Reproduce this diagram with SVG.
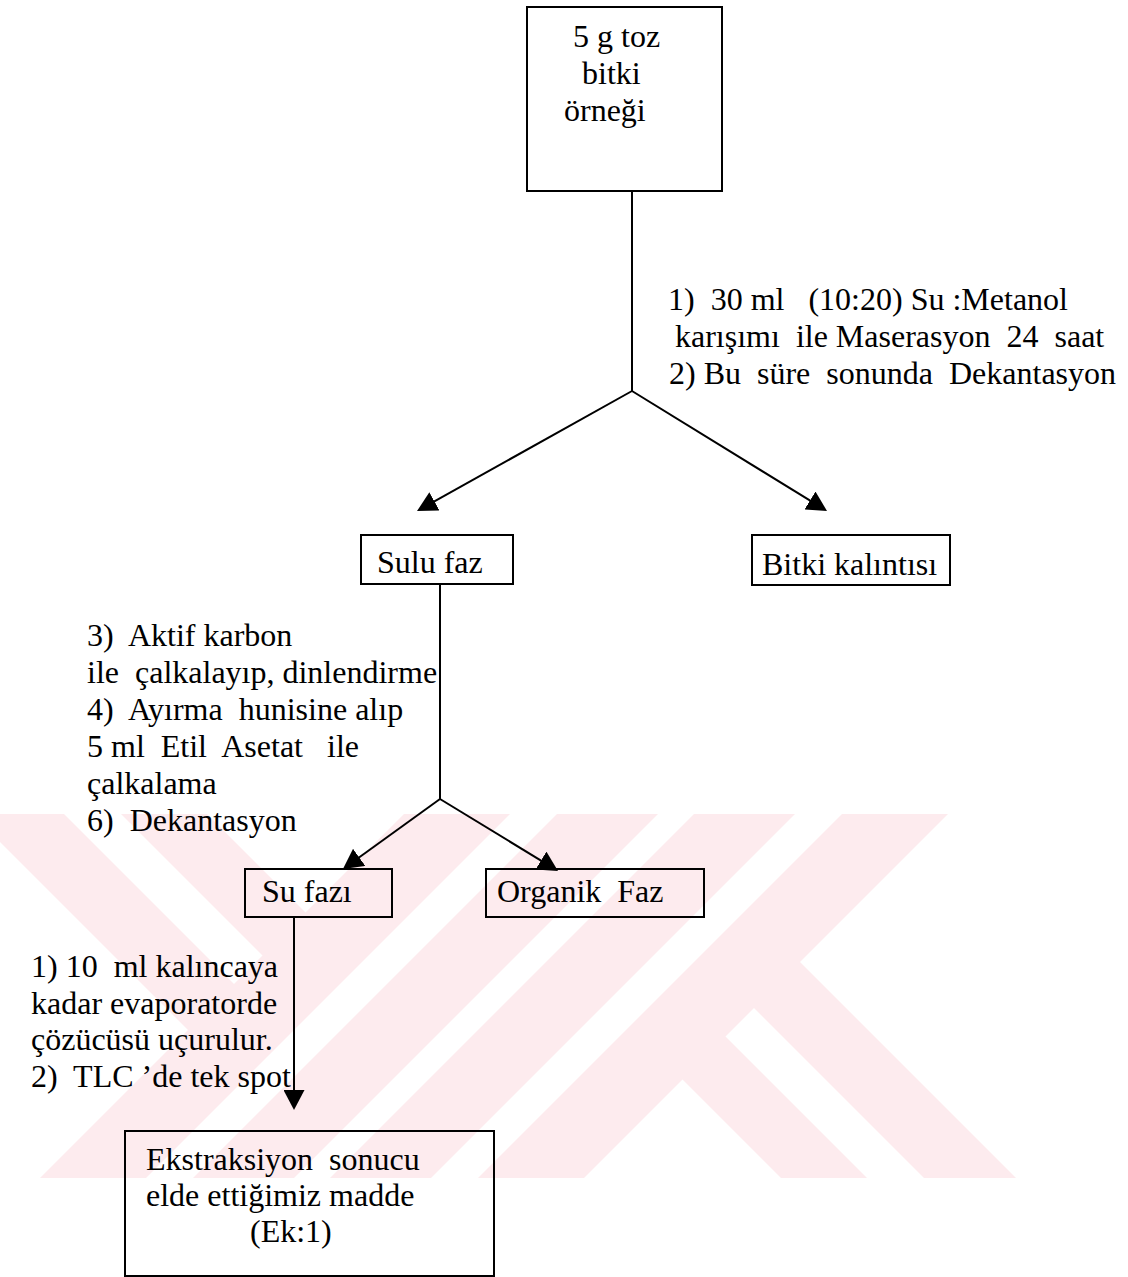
<svg xmlns="http://www.w3.org/2000/svg" width="1128" height="1277" viewBox="0 0 1128 1277" xml:space="preserve">
<style>
  text { font-family: "Liberation Serif", "Times New Roman", serif; font-size: 32px; fill: #000; white-space: pre; }
  .box { fill: none; stroke: #000; stroke-width: 2; }
  .conn { fill: none; stroke: #000; stroke-width: 2; }
  .wm { fill: #fdebee; }
</style>
<defs>
  <marker id="arr" markerUnits="userSpaceOnUse" markerWidth="20" markerHeight="21" viewBox="0 0 20 21" refX="16" refY="10.5" orient="auto">
    <path d="M0,0 L20,10.5 L0,21 Z" fill="#000"/>
  </marker>
  <clipPath id="band"><rect x="0" y="814" width="1128" height="364"/></clipPath>
</defs>
<rect x="0" y="0" width="1128" height="1277" fill="#fff"/>
<g id="watermark" clip-path="url(#band)">
  <polygon class="wm" points="842,814 948,814 584,1178 478,1178"/>
  <polygon class="wm" points="694,814 795,814 431,1178 330,1178"/>
  <polygon class="wm" points="675.5,1072.5 718.5,1029.5 867,1178 781,1178"/>
  <polygon class="wm" points="747,1001 793,955 1016,1178 924,1178"/>
  <polygon class="wm" points="146,1178 40,1178 404,814 510,814"/>
  <polygon class="wm" points="294,1178 193,1178 557,814 658,814"/>
  <polygon class="wm" points="312.5,919.5 269.5,962.5 121,814 207,814"/>
  <polygon class="wm" points="241,991 195,1037 -28,814 64,814"/>
</g>
<g id="connectors">
  <path class="conn" d="M632,191 L632,391"/>
  <path class="conn" d="M632,391 L420.5,509.1" marker-end="url(#arr)"/>
  <path class="conn" d="M632,391 L823.6,508.9" marker-end="url(#arr)"/>
  <path class="conn" d="M440,584 L440,799"/>
  <path class="conn" d="M440,799 L346.2,866.7" marker-end="url(#arr)"/>
  <path class="conn" d="M440,799 L554.6,868.9" marker-end="url(#arr)"/>
  <path class="conn" d="M294,917 L294,1106" marker-end="url(#arr)"/>
</g>
<g id="label-step1">
  <text x="668" y="310">1)  30 ml   (10:20) Su :Metanol</text>
  <text x="675" y="347">karışımı  ile Maserasyon  24  saat</text>
  <text x="669" y="384">2) Bu  süre  sonunda  Dekantasyon</text>
</g>
<g id="label-step2">
  <text x="87" y="646">3)  Aktif karbon</text>
  <text x="87" y="683">ile  çalkalayıp, dinlendirme</text>
  <text x="87" y="720">4)  Ayırma  hunisine alıp</text>
  <text x="87" y="757">5 ml  Etil  Asetat   ile</text>
  <text x="87" y="794">çalkalama</text>
  <text x="87" y="831">6)  Dekantasyon</text>
</g>
<g id="label-step3">
  <text x="31" y="977">1) 10  ml kalıncaya</text>
  <text x="31" y="1014">kadar evaporatorde</text>
  <text x="31" y="1050">çözücüsü uçurulur.</text>
  <text x="31" y="1087">2)  TLC ’de tek spot</text>
</g>
<g id="node-sample">
  <rect class="box" x="527" y="7" width="195" height="184"/>
  <text x="573" y="47">5 g toz</text>
  <text x="582" y="84">bitki</text>
  <text x="564" y="121">örneği</text>
</g>
<g id="node-sulu-faz">
  <rect class="box" x="361" y="535" width="152" height="49"/>
  <text x="377" y="573">Sulu faz</text>
</g>
<g id="node-bitki-kalintisi">
  <rect class="box" x="752" y="535" width="198" height="50"/>
  <text x="762" y="575">Bitki kalıntısı</text>
</g>
<g id="node-su-fazi">
  <rect class="box" x="245" y="869" width="147" height="48"/>
  <text x="262" y="902">Su fazı</text>
</g>
<g id="node-organik-faz">
  <rect class="box" x="486" y="869" width="218" height="48"/>
  <text x="497" y="902">Organik  Faz</text>
</g>
<g id="node-result">
  <rect class="box" x="125" y="1131" width="369" height="145"/>
  <text x="146" y="1170">Ekstraksiyon  sonucu</text>
  <text x="146" y="1206">elde ettiğimiz madde</text>
  <text x="250" y="1242">(Ek:1)</text>
</g>
</svg>
